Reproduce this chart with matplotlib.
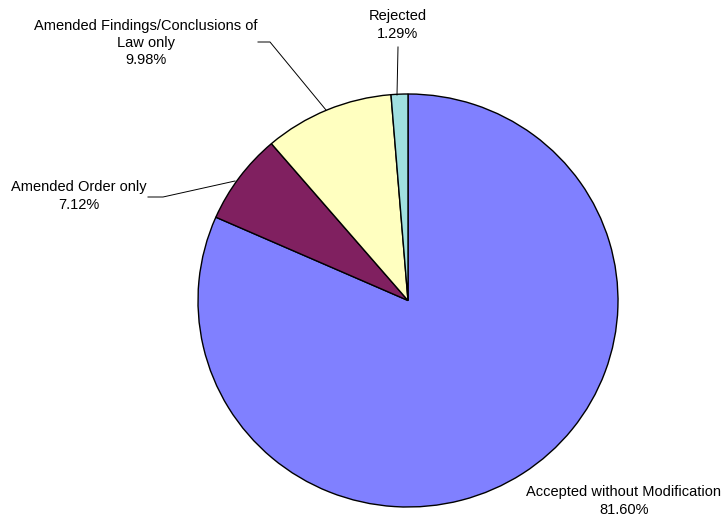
import matplotlib.pyplot as plt

# slice data, drawn clockwise from 12 o'clock
labels = ['Accepted without Modification', 'Amended Order only',
          'Amended Findings/Conclusions of\nLaw only', 'Rejected']
values = [81.60, 7.12, 9.98, 1.29]
colors = ['#8080FF', '#802060', '#FFFFC0', '#A0E0E0']

plt.rcParams['font.family'] = ['Liberation Sans', 'DejaVu Sans']

W, H = 721, 518
cx, cy, rx, ry = 408, 300.5, 210, 206.5


def px(x, y):
    # pixel position (origin top-left) -> data units of the unit pie
    return (x - cx) / rx, (cy - y) / ry


fig = plt.figure(figsize=(W / 100, H / 100), dpi=100)
ax = fig.add_axes([0, 0, 1, 1])
ax.pie(values, colors=colors, startangle=90, counterclock=False,
       radius=1, frame=True,
       wedgeprops=dict(edgecolor='black', linewidth=1.0))
ax.set_aspect('auto')
ax.set_xlim(-cx / rx, (W - cx) / rx)
ax.set_ylim(-(H - cy) / ry, cy / ry)
ax.axis('off')

# label text and leader lines
fs = 10.5
txt = [f'{lab}\n{v:.2f}%' for lab, v in zip(labels, values)]
spots = [(624, 501), (79, 196), (146, 43), (398, 25)]
for t, (x, y) in zip(txt, spots):
    ax.text(*px(x, y), t, ha='center', va='center', fontsize=fs, linespacing=1.3)

leaders = [
    [(148, 197), (163, 197), (235, 181)],
    [(258, 42), (270, 42), (326, 110)],
    [(398, 47), (397, 95)],
]
for pts in leaders:
    xy = [px(x, y) for x, y in pts]
    ax.plot([p[0] for p in xy], [p[1] for p in xy], color='black', lw=0.7)

fig.savefig('out.png', dpi=100)
